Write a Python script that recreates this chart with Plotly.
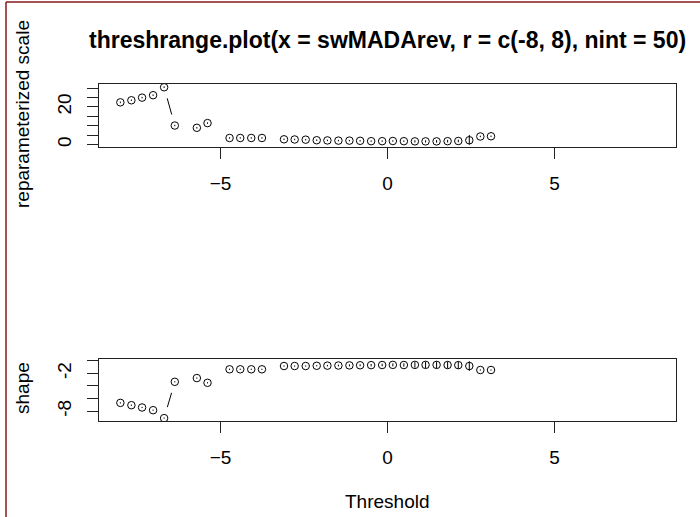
import math
import plotly.graph_objects as go

# ---------------- data ----------------
x_range_r = [-8, 8]
thresholds = [-8.00, -7.67, -7.35, -7.02, -6.69, -6.37, -6.04, -5.71, -5.39, -5.06,
              -4.73, -4.41, -4.08, -3.76, -3.43, -3.10, -2.78, -2.45, -2.12, -1.80,
              -1.47, -1.14, -0.82, -0.49, -0.16, 0.16, 0.49, 0.82, 1.14, 1.47,
              1.80, 2.12, 2.45, 2.78, 3.10]

scale_val = [22.4, 23.5, 24.9, 26.2, 30.4, 10.1, None, 8.9, 11.4, None,
             3.5, 3.5, 3.5, 3.5, None, 2.8, 2.7, 2.6, 2.3, 2.2,
             2.1, 2.1, 2.0, 1.8, 1.8, 1.9, 1.8, 1.7, 1.7, 1.7,
             1.8, 1.9, 2.3, 4.3, 4.4]
scale_low = [22.0, 23.1, 24.5, 25.8, 30.0, 9.7, None, 8.5, 11.0, None,
             3.1, 3.1, 3.1, 3.1, None, 2.4, 2.3, 2.2, 1.9, 1.8,
             1.7, 1.7, 1.6, 1.4, 1.4, 1.5, 1.4, 1.1, 1.1, 1.0,
             1.1, 1.2, -0.05, 3.9, 4.0]
scale_up = [22.8, 23.9, 25.3, 26.6, 30.9, 10.5, None, 9.3, 11.8, None,
            3.9, 3.9, 3.9, 3.9, None, 3.2, 3.1, 3.0, 2.7, 2.6,
            2.5, 2.5, 2.4, 2.2, 2.2, 2.3, 2.2, 2.3, 2.3, 2.4,
            2.5, 2.6, 5.1, 4.7, 4.8]

shape_val = [-6.68, -7.05, -7.41, -7.84, -9.10, -3.34, None, -2.75, -3.50, None,
             -1.36, -1.36, -1.36, -1.36, None, -0.84, -0.84, -0.84, -0.80, -0.78,
             -0.76, -0.74, -0.72, -0.70, -0.68, -0.66, -0.68, -0.66, -0.66, -0.66,
             -0.68, -0.70, -0.84, -1.47, -1.47]
shape_low = [-6.78, -7.15, -7.51, -7.94, -9.19, -3.44, None, -2.85, -3.60, None,
             -1.46, -1.46, -1.46, -1.46, None, -0.94, -0.94, -0.94, -0.90, -0.90,
             -0.90, -0.90, -0.88, -0.90, -0.88, -0.90, -0.95, -1.10, -1.15, -1.20,
             -1.20, -1.25, -1.60, -1.57, -1.57]
shape_up = [-6.58, -6.95, -7.31, -7.74, -9.00, -3.24, None, -2.65, -3.40, None,
            -1.26, -1.26, -1.26, -1.26, None, -0.74, -0.74, -0.74, -0.70, -0.66,
            -0.62, -0.58, -0.56, -0.50, -0.48, -0.42, -0.41, -0.22, -0.17, -0.12,
            -0.16, -0.15, -0.09, -1.37, -1.37]

x_ticks = [-5, 0, 5]
scale_ticks = [0, 5, 10, 15, 20, 25, 30]
scale_ticktext = ["0", "", "", "", "20", "", ""]
shape_ticks = [-8, -6, -4, -2, 0]
shape_ticktext = ["-8", "", "", "-2", ""]

title_text = "threshrange.plot(x = swMADArev, r = c(-8, 8), nint = 50)"

# ---------------- layout constants (pixels) ----------------
W, H = 700, 517
PX0, PX1 = 99, 676
TOP_Y0, TOP_Y1 = 84, 147
BOT_Y0, BOT_Y1 = 359, 421
FONT = "Liberation Sans, Arial, sans-serif"
TXT = 19


def ext(lo, hi):
    d = hi - lo
    return [lo - 0.04 * d, hi + 0.04 * d]


def finite(v):
    return [a for a in v if a is not None]


xr = ext(x_range_r[0], x_range_r[1])
yr_top = ext(min(finite(scale_low)), max(finite(scale_up)))
yr_bot = ext(min(finite(shape_low)), max(finite(shape_up)))


def b_segments(xs, ys, xrng, yrng, pw, ph, gap=11.5):
    sx = pw / (xrng[1] - xrng[0])
    sy = ph / (yrng[1] - yrng[0])
    sxs, sys_ = [], []
    for i in range(len(xs) - 1):
        if ys[i] is None or ys[i + 1] is None:
            continue
        dx = (xs[i + 1] - xs[i]) * sx
        dy = (ys[i + 1] - ys[i]) * sy
        L = math.hypot(dx, dy)
        if L <= 2 * gap:
            continue
        f = gap / L
        ddx = xs[i + 1] - xs[i]
        ddy = ys[i + 1] - ys[i]
        sxs += [xs[i] + ddx * f, xs[i + 1] - ddx * f, None]
        sys_ += [ys[i] + ddy * f, ys[i + 1] - ddy * f, None]
    return sxs, sys_


def err(vals, lows, ups):
    plus = [None if v is None else u - v for v, u in zip(vals, ups)]
    minus = [None if v is None else v - l for v, l in zip(vals, lows)]
    return dict(type="data", symmetric=False, array=plus, arrayminus=minus,
                width=0, thickness=1, color="black")


fig = go.Figure()

pw = PX1 - PX0
for vals, lows, ups, xa, ya, yrng, ph in [
    (scale_val, scale_low, scale_up, "x", "y", yr_top, TOP_Y1 - TOP_Y0),
    (shape_val, shape_low, shape_up, "x2", "y2", yr_bot, BOT_Y1 - BOT_Y0),
]:
    sx, sy = b_segments(thresholds, vals, xr, yrng, pw, ph)
    fig.add_trace(go.Scatter(x=sx, y=sy, mode="lines", xaxis=xa, yaxis=ya,
                             line=dict(color="black", width=1),
                             hoverinfo="skip", showlegend=False))
    fig.add_trace(go.Scatter(x=thresholds, y=vals, mode="markers", xaxis=xa, yaxis=ya,
                             marker=dict(symbol="circle-open", size=7.5, color="black",
                                         line=dict(width=1, color="black")),
                             error_y=err(vals, lows, ups), showlegend=False))

axis_common = dict(showgrid=False, zeroline=False, showline=True, mirror=True,
                   linecolor="#222222", linewidth=1, ticks="outside", ticklen=11,
                   tickwidth=1, tickcolor="#222222",
                   tickfont=dict(family=FONT, size=TXT, color="black"))

fig.update_layout(
    width=W, height=H,
    margin=dict(l=0, r=0, t=0, b=0),
    paper_bgcolor="white", plot_bgcolor="white",
    showlegend=False,
    xaxis=dict(domain=[PX0 / W, PX1 / W], range=xr, tickvals=x_ticks,
               anchor="y", ticklabelstandoff=8, **axis_common),
    xaxis2=dict(domain=[PX0 / W, PX1 / W], range=xr, tickvals=x_ticks,
                anchor="y2", ticklabelstandoff=8, **axis_common),
    yaxis=dict(domain=[1 - TOP_Y1 / H, 1 - TOP_Y0 / H], range=yr_top,
               tickvals=scale_ticks, ticktext=scale_ticktext, tickangle=-90,
               anchor="x", ticklabelstandoff=8, **axis_common),
    yaxis2=dict(domain=[1 - BOT_Y1 / H, 1 - BOT_Y0 / H], range=yr_bot,
                tickvals=shape_ticks, ticktext=shape_ticktext, tickangle=-90,
                anchor="x2", ticklabelstandoff=8, **axis_common),
)

annotations = [
    dict(text="<b>" + title_text + "</b>", x=387 / W, y=1 - 40 / H,
         font=dict(family=FONT, size=23, color="black")),
    dict(text="reparameterized scale", x=22 / W, y=1 - 114 / H, textangle=-90,
         font=dict(family=FONT, size=TXT, color="black")),
    dict(text="shape", x=22 / W, y=1 - 388 / H, textangle=-90,
         font=dict(family=FONT, size=TXT, color="black")),
    dict(text="Threshold", x=387 / W, y=1 - 501 / H,
         font=dict(family=FONT, size=TXT, color="black")),
]
for a in annotations:
    a.update(xref="paper", yref="paper", showarrow=False,
             xanchor="center", yanchor="middle")
fig.update_layout(annotations=annotations)

# dark red window frame seen at the left/top edge of the screenshot
fig.add_shape(type="line", xref="paper", yref="paper",
              x0=6 / W, x1=6 / W, y0=0, y1=1 - 2 / H,
              line=dict(color="#8b1a1a", width=1.5))
fig.add_shape(type="line", xref="paper", yref="paper",
              x0=6 / W, x1=1, y0=1 - 2 / H, y1=1 - 2 / H,
              line=dict(color="#8b1a1a", width=1.5))

fig.write_html("out.html")
